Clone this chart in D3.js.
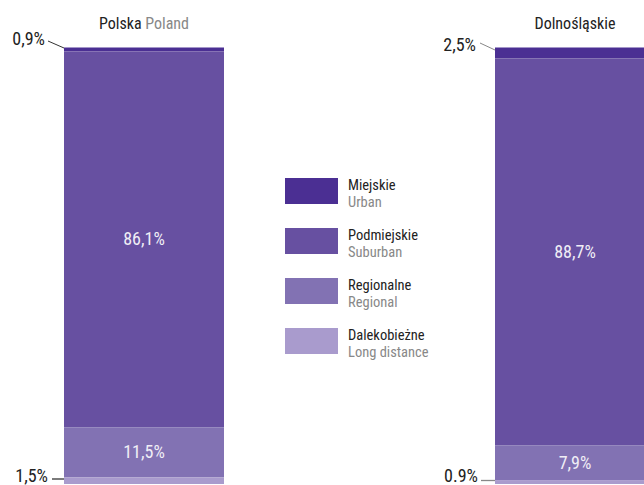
<!DOCTYPE html>
<html><head><meta charset="utf-8">
<script src="https://cdn.jsdelivr.net/npm/d3@7"></script>
<style>
body{margin:0;background:#fff;}
svg text{font-family:"Liberation Sans Narrow","Roboto Condensed","Liberation Sans",sans-serif;font-stretch:condensed;}
</style></head>
<body><svg id="c" width="644" height="485"></svg>
<script>
const categoriesPL = ["Miejskie","Podmiejskie","Regionalne","Dalekobieżne"];
const categoriesEN = ["Urban","Suburban","Regional","Long distance"];
const colors = ["#4b2f93","#6750a1","#8272b3","#a99bcd"];
const regions = ["Polska","Dolnośląskie"];
const regionsEN = ["Poland",""];
const valuesPolska = [0.9,86.1,11.5,1.5];
const valuesDolnoslaskie = [2.5,88.7,7.9,0.9];
const labelsPolska = ["0,9%","86,1%","11,5%","1,5%"];
const labelsDolnoslaskie = ["2,5%","88,7%","7,9%","0.9%"];

const svg = d3.select("#c");
const y = d3.scaleLinear().domain([0,100]).range([47.5,484]);
const x = d3.scaleOrdinal().domain(regions).range([64,495]);
const barW = 160;

const series = [
  {name:regions[0], en:regionsEN[0], vals:valuesPolska, labels:labelsPolska, lineColor:"#333",
   top:{lx1:48,ly1:41,ly2:48,tx:45,ty:45}, bot:{lx1:52,ly:479,tx:48,ty:482}},
  {name:regions[1], en:regionsEN[1], vals:valuesDolnoslaskie, labels:labelsDolnoslaskie, lineColor:"#888",
   top:{lx1:480,ly1:43,ly2:50,tx:476,ty:51}, bot:{lx1:481,ly:480.5,tx:478,ty:482}}
];

series.forEach(s=>{
  const x0 = x(s.name);
  let cum=0;
  const segs = s.vals.map((v,i)=>{const r={i,v,y0:cum,y1:cum+v,label:s.labels[i]};cum+=v;return r;});
  const g = svg.append("g");
  g.selectAll("rect").data(segs).join("rect")
    .attr("x",x0).attr("width",barW)
    .attr("y",d=>y(d.y0)).attr("height",d=>y(d.y1)-y(d.y0))
    .attr("fill",d=>colors[d.i]);
  g.selectAll("text.in").data(segs.filter(d=>d.i===1||d.i===2)).join("text")
    .attr("class","in")
    .attr("x",x0+barW/2).attr("y",d=>(y(d.y0)+y(d.y1))/2+6)
    .attr("text-anchor","middle").attr("fill","#f0eef6").attr("font-size",18)
    .text(d=>d.label);
  const t = g.append("text").attr("x",x0+barW/2).attr("y",29).attr("text-anchor","middle").attr("font-size",16);
  t.append("tspan").attr("fill","#222").text(s.name);
  if(s.en) t.append("tspan").attr("fill","#888").text(" "+s.en);
  const top = segs[0], bot = segs[3];
  g.append("line").attr("x1",s.top.lx1).attr("y1",s.top.ly1).attr("x2",x0).attr("y2",s.top.ly2)
    .attr("stroke",s.lineColor).attr("stroke-width",1);
  g.append("text").attr("x",s.top.tx).attr("y",s.top.ty).attr("text-anchor","end")
    .attr("font-size",18).attr("fill","#222").text(top.label);
  g.append("line").attr("x1",s.bot.lx1).attr("y1",s.bot.ly).attr("x2",x0).attr("y2",s.bot.ly)
    .attr("stroke",s.lineColor).attr("stroke-width",1.3);
  g.append("text").attr("x",s.bot.tx).attr("y",s.bot.ty).attr("text-anchor","end")
    .attr("font-size",18).attr("fill","#222").text(bot.label);
});

const lg = svg.append("g");
const ly = d3.scaleBand().domain(categoriesPL).range([178,378]);
categoriesPL.forEach((c,i)=>{
  const yy = ly(c);
  lg.append("rect").attr("x",285).attr("y",yy).attr("width",53).attr("height",26).attr("fill",colors[i]);
  lg.append("text").attr("x",348).attr("y",yy+12).attr("font-size",14.5).attr("fill","#222").text(c);
  lg.append("text").attr("x",348).attr("y",yy+29).attr("font-size",14.5).attr("fill","#888").text(categoriesEN[i]);
});
</script></body></html>
